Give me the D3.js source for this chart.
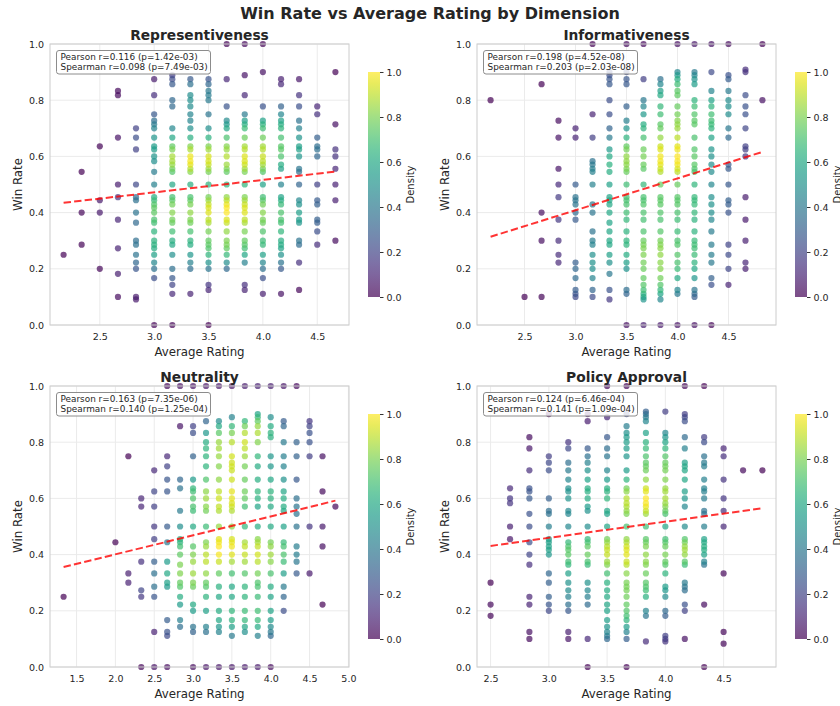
<!DOCTYPE html>
<html>
<head>
<meta charset="utf-8">
<script src="https://cdn.jsdelivr.net/npm/d3@7"></script>
<style>
  body { margin: 0; background: #fff; }
  text { font-family: "DejaVu Sans", sans-serif; fill: #262626; }
</style>
</head>
<body>
<div id="chart"></div>
<script>
// ---- data ----
const dimensions = ["Representiveness", "Informativeness", "Neutrality", "Policy Approval"];
const pearsonText = ["Pearson r=0.116 (p=1.42e-03)", "Pearson r=0.198 (p=4.52e-08)", "Pearson r=0.163 (p=7.35e-06)", "Pearson r=0.124 (p=6.46e-04)"];
const spearmanText = ["Spearman r=0.098 (p=7.49e-03)", "Spearman r=0.203 (p=2.03e-08)", "Spearman r=0.140 (p=1.25e-04)", "Spearman r=0.141 (p=1.09e-04)"];

const repRatings = [2.167, 2.333, 2.5, 2.667, 2.833, 3.0, 3.167, 3.333, 3.5, 3.667, 3.833, 4.0, 4.167, 4.333, 4.5, 4.667];
const repWinRates = [
  [0.25],
  [0.545, 0.4, 0.286],
  [0.636, 0.444, 0.4, 0.2],
  [0.833, 0.818, 0.667, 0.5, 0.455, 0.375, 0.273, 0.182, 0.1],
  [0.7, 0.667, 0.625, 0.5, 0.455, 0.444, 0.4, 0.364, 0.3, 0.286, 0.25, 0.222, 0.2, 0.1, 0.091],
  [0.875, 0.818, 0.75, 0.727, 0.714, 0.7, 0.667, 0.636, 0.625, 0.6, 0.583, 0.545, 0.5, 0.455, 0.444, 0.429, 0.417, 0.4, 0.375, 0.364, 0.333, 0.3, 0.286, 0.273, 0.25, 0.222, 0.2, 0.167, 0],
  [0.889, 0.875, 0.857, 0.8, 0.778, 0.7, 0.667, 0.636, 0.625, 0.6, 0.583, 0.571, 0.556, 0.545, 0.5, 0.455, 0.444, 0.429, 0.4, 0.375, 0.364, 0.333, 0.3, 0.286, 0.25, 0.2, 0.167, 0.143, 0.111, 0],
  [0.875, 0.857, 0.818, 0.8, 0.778, 0.75, 0.727, 0.7, 0.667, 0.636, 0.625, 0.6, 0.583, 0.571, 0.556, 0.545, 0.5, 0.455, 0.444, 0.429, 0.4, 0.375, 0.364, 0.333, 0.3, 0.286, 0.25, 0.222, 0.2, 0.111],
  [0.875, 0.857, 0.833, 0.818, 0.8, 0.75, 0.7, 0.667, 0.636, 0.625, 0.6, 0.583, 0.571, 0.556, 0.545, 0.5, 0.455, 0.444, 0.429, 0.417, 0.4, 0.375, 0.364, 0.333, 0.3, 0.286, 0.273, 0.25, 0.222, 0.2, 0.143, 0.125, 0],
  [1.0, 0.875, 0.778, 0.727, 0.714, 0.7, 0.667, 0.636, 0.625, 0.6, 0.571, 0.556, 0.545, 0.5, 0.455, 0.444, 0.429, 0.417, 0.4, 0.375, 0.364, 0.333, 0.3, 0.286, 0.273, 0.25, 0.222, 0.2],
  [1.0, 0.889, 0.818, 0.75, 0.727, 0.714, 0.7, 0.667, 0.636, 0.625, 0.6, 0.583, 0.571, 0.556, 0.545, 0.5, 0.455, 0.444, 0.429, 0.417, 0.4, 0.375, 0.364, 0.333, 0.3, 0.286, 0.273, 0.25, 0.222, 0.143, 0.125],
  [1.0, 0.9, 0.778, 0.727, 0.714, 0.7, 0.667, 0.636, 0.625, 0.6, 0.583, 0.571, 0.556, 0.545, 0.5, 0.455, 0.444, 0.429, 0.4, 0.375, 0.364, 0.333, 0.3, 0.286, 0.25, 0.222, 0.2, 0.167, 0.111],
  [0.875, 0.857, 0.778, 0.75, 0.727, 0.714, 0.7, 0.667, 0.636, 0.625, 0.6, 0.571, 0.556, 0.5, 0.455, 0.444, 0.429, 0.4, 0.375, 0.364, 0.333, 0.3, 0.286, 0.273, 0.25, 0.222, 0.2, 0.111],
  [0.875, 0.818, 0.778, 0.727, 0.7, 0.667, 0.636, 0.625, 0.6, 0.556, 0.545, 0.5, 0.444, 0.429, 0.4, 0.375, 0.364, 0.3, 0.286, 0.222, 0.125],
  [0.778, 0.75, 0.667, 0.636, 0.625, 0.6, 0.5, 0.444, 0.429, 0.375, 0.364, 0.333, 0.286],
  [0.9, 0.714, 0.625, 0.6, 0.556, 0.5, 0.444, 0.3]
];

const infRatings = [2.167, 2.5, 2.667, 2.833, 3.0, 3.167, 3.333, 3.5, 3.667, 3.833, 4.0, 4.167, 4.333, 4.5, 4.667, 4.833];
const infWinRates = [
  [0.8],
  [0.1],
  [0.857, 0.4, 0.3, 0.1],
  [0.727, 0.667, 0.556, 0.5, 0.455, 0.375, 0.3, 0.25, 0.222],
  [0.7, 0.667, 0.5, 0.455, 0.444, 0.429, 0.4, 0.375, 0.222, 0.2, 0.167, 0.125, 0.111, 0.1],
  [1.0, 0.75, 0.667, 0.583, 0.571, 0.556, 0.545, 0.5, 0.429, 0.4, 0.333, 0.3, 0.286, 0.25, 0.222, 0.2, 0.167, 0.125, 0.1],
  [0.9, 0.889, 0.875, 0.857, 0.8, 0.75, 0.7, 0.667, 0.625, 0.6, 0.571, 0.545, 0.5, 0.455, 0.444, 0.429, 0.4, 0.364, 0.333, 0.3, 0.286, 0.25, 0.222, 0.182, 0.125, 0.091],
  [1.0, 0.9, 0.875, 0.857, 0.778, 0.727, 0.7, 0.667, 0.636, 0.625, 0.6, 0.583, 0.571, 0.556, 0.545, 0.5, 0.455, 0.444, 0.429, 0.4, 0.375, 0.333, 0.3, 0.286, 0.25, 0.222, 0.2, 0.125, 0.111, 0],
  [1.0, 0.875, 0.8, 0.778, 0.75, 0.714, 0.7, 0.667, 0.625, 0.6, 0.571, 0.556, 0.5, 0.455, 0.444, 0.429, 0.4, 0.375, 0.333, 0.3, 0.286, 0.273, 0.25, 0.222, 0.2, 0.167, 0.143, 0.125, 0.111, 0.1, 0.091, 0],
  [0.875, 0.857, 0.833, 0.818, 0.778, 0.75, 0.714, 0.7, 0.667, 0.636, 0.625, 0.6, 0.583, 0.571, 0.556, 0.545, 0.5, 0.455, 0.444, 0.429, 0.4, 0.375, 0.333, 0.3, 0.286, 0.273, 0.25, 0.222, 0.2, 0.167, 0.143, 0.125, 0.111, 0.091, 0],
  [1.0, 0.9, 0.889, 0.875, 0.857, 0.833, 0.818, 0.778, 0.75, 0.727, 0.714, 0.7, 0.667, 0.636, 0.625, 0.6, 0.583, 0.571, 0.556, 0.545, 0.5, 0.455, 0.444, 0.429, 0.4, 0.375, 0.333, 0.3, 0.286, 0.25, 0.222, 0.2, 0.167, 0.125, 0.111, 0],
  [1.0, 0.9, 0.889, 0.875, 0.857, 0.8, 0.778, 0.75, 0.727, 0.714, 0.667, 0.625, 0.6, 0.571, 0.556, 0.545, 0.5, 0.455, 0.444, 0.429, 0.4, 0.375, 0.333, 0.3, 0.286, 0.273, 0.25, 0.222, 0.2, 0.167, 0.125, 0.111, 0.1, 0],
  [1.0, 0.9, 0.833, 0.8, 0.778, 0.75, 0.727, 0.714, 0.7, 0.667, 0.625, 0.6, 0.571, 0.545, 0.5, 0.455, 0.429, 0.4, 0.375, 0.333, 0.286, 0.25, 0.222, 0.167, 0.143, 0],
  [1.0, 0.889, 0.875, 0.833, 0.8, 0.778, 0.75, 0.7, 0.667, 0.571, 0.556, 0.5, 0.444, 0.429, 0.4, 0.286, 0.25, 0.2, 0.143],
  [0.909, 0.9, 0.818, 0.778, 0.75, 0.7, 0.636, 0.625, 0.6, 0.455, 0.375, 0.3, 0.222, 0.2],
  [1.0, 0.8]
];

const neuRatings = [1.333, 2.0, 2.167, 2.333, 2.5, 2.667, 2.833, 3.0, 3.167, 3.333, 3.5, 3.667, 3.833, 4.0, 4.167, 4.333, 4.5, 4.667, 4.833];
const neuWinRates = [
  [0.25],
  [0.444],
  [0.75, 0.333, 0.3],
  [0.6, 0.571, 0.375, 0.273, 0.25, 0],
  [0.7, 0.625, 0.571, 0.5, 0.455, 0.375, 0.333, 0.286, 0.25, 0.125, 0],
  [1.0, 0.75, 0.714, 0.667, 0.625, 0.5, 0.444, 0.375, 0.333, 0.3, 0.286, 0.167, 0.125, 0.111, 0],
  [1.0, 0.857, 0.667, 0.636, 0.556, 0.5, 0.455, 0.444, 0.429, 0.4, 0.364, 0.333, 0.3, 0.286, 0.25, 0.222, 0.167, 0.143],
  [1.0, 0.857, 0.833, 0.75, 0.667, 0.636, 0.625, 0.6, 0.571, 0.556, 0.5, 0.429, 0.4, 0.375, 0.333, 0.3, 0.286, 0.222, 0.2, 0.143, 0.125, 0],
  [1.0, 0.875, 0.833, 0.8, 0.778, 0.75, 0.714, 0.667, 0.625, 0.6, 0.571, 0.556, 0.5, 0.444, 0.429, 0.4, 0.375, 0.333, 0.3, 0.286, 0.25, 0.2, 0.143, 0.125, 0],
  [1.0, 0.875, 0.857, 0.833, 0.8, 0.778, 0.75, 0.714, 0.667, 0.625, 0.6, 0.571, 0.556, 0.5, 0.455, 0.444, 0.429, 0.4, 0.375, 0.333, 0.286, 0.25, 0.2, 0.167, 0.143, 0.125, 0],
  [1.0, 0.889, 0.857, 0.833, 0.8, 0.75, 0.727, 0.714, 0.7, 0.667, 0.625, 0.6, 0.583, 0.571, 0.556, 0.5, 0.455, 0.444, 0.429, 0.4, 0.375, 0.333, 0.286, 0.25, 0.2, 0.167, 0.143, 0.111, 0],
  [1.0, 0.875, 0.857, 0.833, 0.8, 0.778, 0.75, 0.714, 0.667, 0.625, 0.6, 0.571, 0.5, 0.444, 0.429, 0.4, 0.375, 0.333, 0.286, 0.25, 0.2, 0.167, 0.143, 0.125, 0],
  [1.0, 0.9, 0.889, 0.875, 0.857, 0.833, 0.8, 0.75, 0.714, 0.667, 0.625, 0.6, 0.571, 0.5, 0.455, 0.444, 0.429, 0.4, 0.375, 0.333, 0.3, 0.286, 0.25, 0.2, 0.167, 0.143, 0.111, 0],
  [1.0, 0.889, 0.857, 0.833, 0.818, 0.75, 0.714, 0.667, 0.625, 0.6, 0.571, 0.5, 0.444, 0.429, 0.4, 0.375, 0.333, 0.286, 0.25, 0.2, 0.167, 0.143, 0.125, 0.111, 0],
  [1.0, 0.875, 0.857, 0.8, 0.75, 0.714, 0.667, 0.625, 0.6, 0.571, 0.556, 0.5, 0.444, 0.429, 0.4, 0.375, 0.333, 0.286, 0.25, 0.2],
  [1.0, 0.8, 0.75, 0.667, 0.6, 0.571, 0.545, 0.5, 0.429, 0.4, 0.375, 0.333],
  [0.875, 0.857, 0.833, 0.8, 0.75, 0.5, 0.333],
  [0.75, 0.625, 0.5, 0.429, 0.222],
  [0.571]
];

const polRatings = [2.5, 2.667, 2.833, 3.0, 3.167, 3.333, 3.5, 3.667, 3.833, 4.0, 4.167, 4.333, 4.5, 4.667, 4.833];
const polWinRates = [
  [0.3, 0.222, 0.182],
  [0.636, 0.6, 0.583, 0.5, 0.455],
  [0.818, 0.778, 0.7, 0.636, 0.625, 0.6, 0.545, 0.5, 0.444, 0.4, 0.364, 0.25, 0.222, 0.125, 0.1],
  [0.9, 0.75, 0.727, 0.7, 0.6, 0.556, 0.545, 0.5, 0.455, 0.444, 0.429, 0.417, 0.4, 0.333, 0.3, 0.25, 0.222, 0.2],
  [0.8, 0.778, 0.727, 0.7, 0.667, 0.636, 0.625, 0.6, 0.556, 0.545, 0.5, 0.444, 0.429, 0.417, 0.4, 0.375, 0.364, 0.333, 0.3, 0.273, 0.25, 0.222, 0.2, 0.125, 0.1],
  [0.9, 0.875, 0.778, 0.75, 0.727, 0.7, 0.667, 0.636, 0.625, 0.6, 0.571, 0.556, 0.5, 0.455, 0.444, 0.429, 0.4, 0.375, 0.364, 0.3, 0.273, 0.25, 0.222, 0.1, 0],
  [1.0, 0.889, 0.818, 0.778, 0.75, 0.7, 0.667, 0.636, 0.625, 0.6, 0.556, 0.545, 0.5, 0.455, 0.444, 0.429, 0.417, 0.4, 0.375, 0.364, 0.333, 0.3, 0.273, 0.25, 0.222, 0.2, 0.167, 0.143, 0.125, 0.111, 0.1],
  [1.0, 0.9, 0.857, 0.833, 0.818, 0.8, 0.778, 0.75, 0.7, 0.667, 0.636, 0.625, 0.6, 0.583, 0.571, 0.556, 0.545, 0.5, 0.455, 0.444, 0.429, 0.417, 0.4, 0.375, 0.364, 0.333, 0.3, 0.286, 0.273, 0.25, 0.222, 0.2, 0.182, 0.167, 0.143, 0.125, 0.1, 0],
  [0.909, 0.9, 0.889, 0.875, 0.833, 0.8, 0.778, 0.75, 0.727, 0.714, 0.7, 0.667, 0.636, 0.625, 0.6, 0.583, 0.571, 0.556, 0.545, 0.5, 0.455, 0.444, 0.429, 0.4, 0.375, 0.364, 0.333, 0.3, 0.286, 0.273, 0.25, 0.2, 0.182, 0.091],
  [0.909, 0.833, 0.818, 0.8, 0.778, 0.75, 0.727, 0.714, 0.7, 0.667, 0.636, 0.625, 0.6, 0.583, 0.571, 0.556, 0.545, 0.5, 0.455, 0.444, 0.429, 0.4, 0.375, 0.364, 0.333, 0.286, 0.273, 0.25, 0.2, 0.182, 0.111, 0.1, 0.091],
  [1.0, 0.9, 0.889, 0.875, 0.818, 0.778, 0.727, 0.714, 0.7, 0.667, 0.625, 0.6, 0.571, 0.5, 0.455, 0.444, 0.429, 0.417, 0.4, 0.375, 0.364, 0.3, 0.286, 0.273, 0.222, 0.2, 0.1],
  [1.0, 0.818, 0.8, 0.75, 0.727, 0.714, 0.667, 0.636, 0.625, 0.6, 0.556, 0.545, 0.5, 0.455, 0.444, 0.429, 0.417, 0.4, 0.375, 0.364, 0.222, 0],
  [0.778, 0.75, 0.667, 0.6, 0.556, 0.5, 0.333, 0.125, 0.083],
  [0.7],
  [0.7]
];

// fitted trend line: win rate at the lowest and highest rating
const trendEnds = [[0.435, 0.546], [0.314, 0.616], [0.356, 0.592], [0.431, 0.565]];

const xTickValues = [
  [2.5, 3.0, 3.5, 4.0, 4.5],
  [2.5, 3.0, 3.5, 4.0, 4.5],
  [1.5, 2.0, 2.5, 3.0, 3.5, 4.0, 4.5, 5.0],
  [2.5, 3.0, 3.5, 4.0, 4.5]
];
const yTickValues = [0, 0.2, 0.4, 0.6, 0.8, 1.0];
const cbTickValues = [0, 0.2, 0.4, 0.6, 0.8, 1.0];

const allRatings = [repRatings, infRatings, neuRatings, polRatings];
const allWinRates = [repWinRates, infWinRates, neuWinRates, polWinRates];

// ---- layout ----
const W = 840, H = 706;
const origins = [[50, 44], [477, 44], [50, 386], [477, 386]];
const plotW = 299, plotH = 281;
const cb = {dx: 318, dy: 28, w: 12, h: 225};

const svg = d3.select("#chart").append("svg")
  .attr("width", W).attr("height", H)
  .style("background", "#fff");

svg.append("text")
  .attr("x", 430).attr("y", 19)
  .attr("text-anchor", "middle")
  .attr("font-size", 16).attr("font-weight", "bold")
  .text("Win Rate vs Average Rating by Dimension");

// gaussian kde evaluated at the points themselves.
// the picture only gives the distinct points (stacked duplicates are lost),
// so the kernel is made narrower than scott's rule to keep the peak tight
function kdeAt(pts) {
  const n = pts.length;
  const mx = d3.mean(pts, p => p.x), my = d3.mean(pts, p => p.y);
  let sxx = 0, syy = 0, sxy = 0;
  pts.forEach(p => {
    sxx += (p.x - mx) ** 2; syy += (p.y - my) ** 2; sxy += (p.x - mx) * (p.y - my);
  });
  sxx /= n - 1; syy /= n - 1; sxy /= n - 1;
  const f2 = Math.pow(n, -1 / 3) * 0.62 * 0.62;
  const a = sxx * f2, b = sxy * f2, c = syy * f2;
  const det = a * c - b * b;
  const ia = c / det, ib = -b / det, ic = a / det;
  return pts.map(p => {
    let s = 0;
    pts.forEach(q => {
      const dx = p.x - q.x, dy = p.y - q.y;
      s += Math.exp(-0.5 * (ia * dx * dx + 2 * ib * dx * dy + ic * dy * dy));
    });
    return s;
  });
}

// shared colorbar gradient
const defs = svg.append("defs");
const grad = defs.append("linearGradient")
  .attr("id", "viridisGrad")
  .attr("x1", 0).attr("y1", 1).attr("x2", 0).attr("y2", 0);
d3.range(0, 1.0001, 0.05).forEach(t => {
  grad.append("stop")
    .attr("offset", t)
    .attr("stop-color", d3.interpolateViridis(t))
    .attr("stop-opacity", 0.7);
});

dimensions.forEach((dim, i) => {
  const [ox, oy] = origins[i];
  const g = svg.append("g").attr("transform", `translate(${ox},${oy})`);

  const pts = [];
  allRatings[i].forEach((r, j) => {
    allWinRates[i][j].forEach(w => pts.push({x: r, y: w}));
  });
  const dens = kdeAt(pts);
  const dMin = d3.min(dens), dMax = d3.max(dens);
  pts.forEach((p, k) => p.d = Math.pow((dens[k] - dMin) / (dMax - dMin), 1.5));
  pts.sort((p, q) => p.d - q.d);

  const [xMin, xMax] = d3.extent(pts, p => p.x);
  const pad = (xMax - xMin) * 0.05;
  const x = d3.scaleLinear().domain([xMin - pad, xMax + pad]).range([0, plotW]);
  const y = d3.scaleLinear().domain([0, 1]).range([plotH, 0]);

  // grid
  g.selectAll(".gx").data(xTickValues[i]).join("line")
    .attr("x1", d => x(d)).attr("x2", d => x(d))
    .attr("y1", 0).attr("y2", plotH)
    .attr("stroke", "#ebebeb").attr("stroke-width", 1);
  g.selectAll(".gy").data(yTickValues).join("line")
    .attr("x1", 0).attr("x2", plotW)
    .attr("y1", d => y(d)).attr("y2", d => y(d))
    .attr("stroke", "#ebebeb").attr("stroke-width", 1);

  // axes
  const xAxis = g.append("g")
    .attr("transform", `translate(0,${plotH})`)
    .call(d3.axisBottom(x).tickValues(xTickValues[i]).tickFormat(d3.format(".1f")).tickSize(0).tickPadding(8));
  const yAxis = g.append("g")
    .call(d3.axisLeft(y).tickValues(yTickValues).tickFormat(d3.format(".1f")).tickSize(0).tickPadding(6));
  [xAxis, yAxis].forEach(ax => {
    ax.select(".domain").remove();
    ax.selectAll("text").attr("font-size", 9.5).attr("fill", "#333")
      .attr("font-family", "DejaVu Sans, sans-serif");
  });

  // points
  g.selectAll(".pt").data(pts).join("circle")
    .attr("cx", p => x(p.x)).attr("cy", p => y(p.y))
    .attr("r", 3.1)
    .attr("fill", p => d3.interpolateViridis(p.d))
    .attr("fill-opacity", 0.7);

  // trend line
  g.append("line")
    .attr("x1", x(xMin)).attr("y1", y(trendEnds[i][0]))
    .attr("x2", x(xMax)).attr("y2", y(trendEnds[i][1]))
    .attr("stroke", "#ff0000").attr("stroke-opacity", 0.8)
    .attr("stroke-width", 2).attr("stroke-dasharray", "7.4,3.2");

  // frame
  g.append("rect")
    .attr("width", plotW).attr("height", plotH)
    .attr("fill", "none").attr("stroke", "#cccccc").attr("stroke-width", 1);

  // stats box
  const box = g.append("g").attr("transform", "translate(6.5,6.5)");
  box.append("rect")
    .attr("width", 154).attr("height", 23.5).attr("rx", 2.5)
    .attr("fill", "#fff").attr("fill-opacity", 0.8)
    .attr("stroke", "#8c8c8c").attr("stroke-width", 1);
  box.append("text").attr("x", 4).attr("y", 9.8).attr("font-size", 8.9).text(pearsonText[i]);
  box.append("text").attr("x", 4).attr("y", 19.6).attr("font-size", 8.9).text(spearmanText[i]);

  // titles and labels
  g.append("text")
    .attr("x", plotW / 2).attr("y", -4.5)
    .attr("text-anchor", "middle")
    .attr("font-size", 13.8).attr("font-weight", "bold")
    .text(dim);
  g.append("text")
    .attr("x", plotW / 2).attr("y", plotH + 30.5)
    .attr("text-anchor", "middle")
    .attr("font-size", 11.8)
    .text("Average Rating");
  g.append("text")
    .attr("transform", `translate(${-28},${plotH / 2}) rotate(-90)`)
    .attr("text-anchor", "middle")
    .attr("font-size", 11.8)
    .text("Win Rate");

  // colorbar
  const cg = g.append("g").attr("transform", `translate(${cb.dx},${cb.dy})`);
  cg.append("rect")
    .attr("width", cb.w).attr("height", cb.h)
    .attr("fill", "url(#viridisGrad)");
  const cy = d3.scaleLinear().domain([0, 1]).range([cb.h, 0]);
  const cAxis = cg.append("g")
    .attr("transform", `translate(${cb.w},0)`)
    .call(d3.axisRight(cy).tickValues(cbTickValues).tickFormat(d3.format(".1f")).tickSize(3.5).tickPadding(3));
  cAxis.select(".domain").remove();
  cAxis.selectAll("line").attr("stroke", "#333");
  cAxis.selectAll("text").attr("font-size", 9.5).attr("fill", "#333")
    .attr("font-family", "DejaVu Sans, sans-serif");
  cg.append("text")
    .attr("transform", `translate(${cb.w + 34},${cb.h / 2}) rotate(-90)`)
    .attr("text-anchor", "middle")
    .attr("font-size", 10)
    .text("Density");
});
</script>
</body>
</html>
